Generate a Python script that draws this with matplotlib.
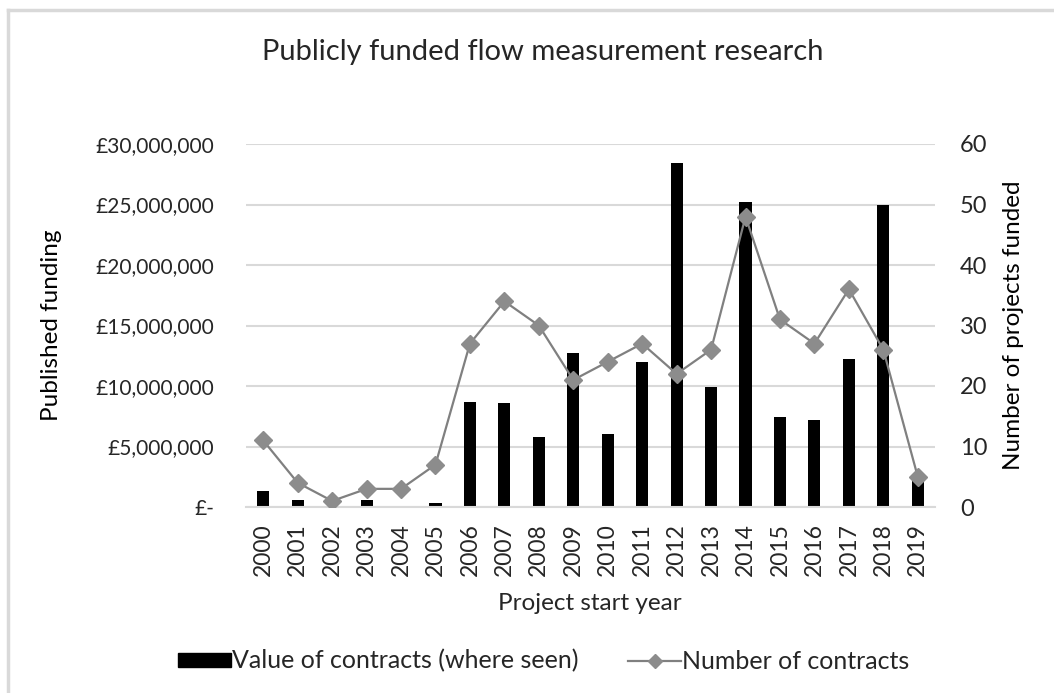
import matplotlib
matplotlib.use("Agg")
import matplotlib.pyplot as plt
from matplotlib.lines import Line2D
from matplotlib.patches import Patch
from matplotlib.ticker import FuncFormatter
import numpy as np

plt.rcParams["font.family"] = ["Lato", "DejaVu Sans"]

years = [str(y) for y in range(2000, 2020)]
contract_value = [1.3e6, 0.6e6, 0.0, 0.6e6, 0.0, 0.35e6, 8.65e6, 8.6e6, 5.8e6, 12.7e6,
                  6.0e6, 12.0e6, 28.4e6, 9.95e6, 25.2e6, 7.4e6, 7.2e6, 12.2e6, 25.0e6, 2.4e6]
contract_count = [11, 4, 1, 3, 3, 7, 27, 34, 30, 21, 24, 27, 22, 26, 48, 31, 27, 36, 26, 5]
funding_ticks = [0, 5e6, 10e6, 15e6, 20e6, 25e6, 30e6]
count_ticks = [0, 10, 20, 30, 40, 50, 60]

W, H = 1054, 693
fig = plt.figure(figsize=(W / 100, H / 100), dpi=100)
text_col = "#262626"

# chart frame (top and left edges)
frame_col = "#d9d9d9"
fig.add_artist(Line2D([8 / W, 8 / W], [0, 1 - 10 / H], transform=fig.transFigure,
                      color=frame_col, lw=2.5))
fig.add_artist(Line2D([8 / W, 1], [1 - 10 / H, 1 - 10 / H], transform=fig.transFigure,
                      color=frame_col, lw=2.5))

left, right, bottom, top = 246, 935, 507, 144
ax = fig.add_axes([left / W, 1 - bottom / H, (right - left) / W, (bottom - top) / H])
x = np.arange(len(years))

ax.bar(x, contract_value, width=0.35, color="black", zorder=2)
ax.set_xlim(-0.5, len(years) - 0.5)
ax.set_ylim(0, 30e6)
ax.set_yticks(funding_ticks)


def pounds(v, pos):
    if v == 0:
        return "£-"
    return "£{:,.0f}".format(v)


ax.yaxis.set_major_formatter(FuncFormatter(pounds))
ax.grid(axis="y", color="#d9d9d9", lw=1.5, zorder=0)
ax.set_axisbelow(True)
for s in ["top", "right", "left"]:
    ax.spines[s].set_visible(False)
ax.spines["bottom"].set_color("#d9d9d9")
ax.spines["bottom"].set_linewidth(1.5)
ax.tick_params(axis="both", length=0, colors=text_col)
ax.tick_params(axis="y", labelsize=15, pad=23)
ax.set_xticks(x)
ax.set_xticklabels(years, rotation=90)
ax.tick_params(axis="x", labelsize=16.5, pad=11.5)

ax2 = ax.twinx()
ax2.plot(x, contract_count, color="#808080", lw=1.6, marker="D", markersize=9.5,
         markerfacecolor="#8c8c8c", markeredgecolor="#8c8c8c", zorder=3)
ax2.set_ylim(0, 60)
ax2.set_yticks(count_ticks)
for s in ax2.spines.values():
    s.set_visible(False)
ax2.tick_params(axis="y", length=0, colors=text_col, labelsize=17, pad=18)

fig.text(543 / W, 1 - 52 / H, "Publicly funded flow measurement research",
         ha="center", va="center", fontsize=21, color=text_col)
fig.text(52 / W, 1 - 325 / H, "Published funding", rotation=90, ha="center", va="center",
         fontsize=17.5, color="black")
fig.text(1013 / W, 1 - 325 / H, "Number of projects funded", rotation=90, ha="center",
         va="center", fontsize=17.5, color="black")
fig.text(590 / W, 1 - 603 / H, "Project start year", ha="center",
         va="center", fontsize=17.5, color=text_col)

handles = [Patch(facecolor="black", edgecolor="black"),
           Line2D([0], [0], color="#808080", lw=1.6, marker="D", markersize=7,
                  markerfacecolor="#8c8c8c", markeredgecolor="#8c8c8c")]
fig.legend(handles, ["Value of contracts (where seen)", "Number of contracts"],
           loc="center left", bbox_to_anchor=(178 / W, 1 - 661 / H), ncol=2, frameon=False,
           fontsize=18, handlelength=2.1, handleheight=0.5, handletextpad=0.05,
           columnspacing=2.0, borderpad=0, borderaxespad=0, labelcolor=text_col)

fig.savefig("out.png", dpi=100, facecolor="white")
